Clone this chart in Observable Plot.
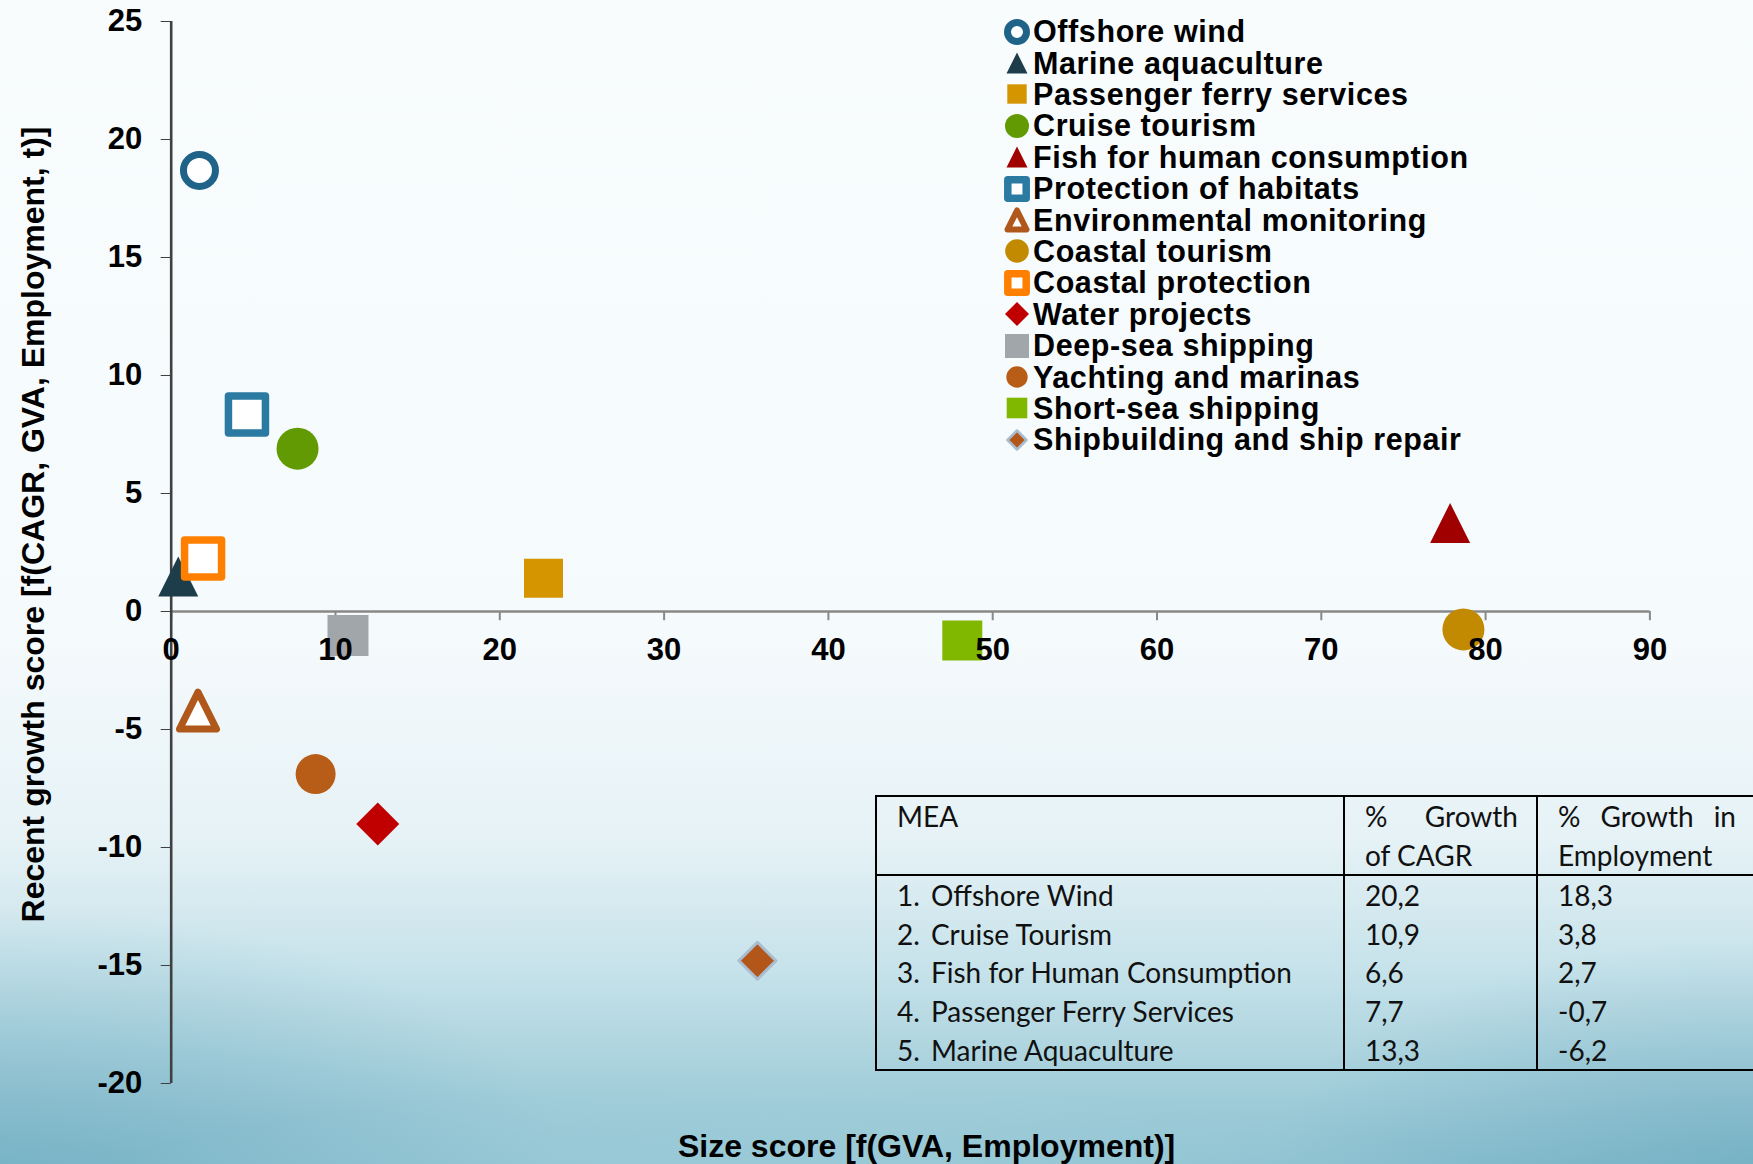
<!DOCTYPE html>
<html>
<head>
<meta charset="utf-8">
<script src="https://cdn.jsdelivr.net/npm/d3@7"></script>
<script src="https://cdn.jsdelivr.net/npm/@observablehq/plot@0.6"></script>
<style>
  html, body { margin: 0; padding: 0; }
  body {
    width: 1753px; height: 1164px; overflow: hidden; position: relative;
    background:
      radial-gradient(ellipse 1100px 230px at 45% 108%, rgba(190,224,233,0.55), rgba(190,224,233,0) 75%),
      radial-gradient(ellipse 700px 320px at 0% 100%, rgba(105,168,190,0.55), rgba(105,168,190,0) 80%),
      radial-gradient(ellipse 600px 280px at 100% 100%, rgba(98,162,186,0.5), rgba(98,162,186,0) 80%),
      linear-gradient(to bottom, #f8fcfd 0%, #f5fafc 55%, #e6f2f6 72%, #c4e1e9 84%, #8cc1d0 100%);
    font-family: "Liberation Sans", Arial, sans-serif;
  }
  #chart { position: absolute; left: 0; top: 0; }
  #legend { position: absolute; left: 1004px; top: 16px; }
  .li { height: 31.4px; display: flex; align-items: center; font: bold 30.5px "Liberation Sans", Arial, sans-serif; letter-spacing: 0.6px; color: #000; white-space: nowrap; }
  .li svg { width: 26px; height: 28px; margin-right: 3px; flex: none; }
  #tbl { position: absolute; left: 875px; top: 795px; border-collapse: collapse;
         font: 28px Lato, "Open Sans", sans-serif; color: #111; }
  #tbl td { border: 2.5px solid #000; padding: 0; vertical-align: top; }
  #tbl .line { height: 38.6px; line-height: 38.6px; white-space: nowrap; }
  .just { display: flex; justify-content: space-between; }
  .num { display: inline-block; width: 34px; }
</style>
</head>
<body>
<div id="chart"></div>
<div id="legend"></div>
<table id="tbl"></table>
<script>
// ---------- data ----------
const sectors = [
  "Offshore wind", "Marine aquaculture", "Passenger ferry services", "Cruise tourism",
  "Fish for human consumption", "Protection of habitats", "Environmental monitoring",
  "Coastal tourism", "Coastal protection", "Water projects", "Deep-sea shipping",
  "Yachting and marinas", "Short-sea shipping", "Shipbuilding and ship repair"
];
const sizeScore   = [1.72, 0.43, 22.66, 7.69, 77.84, 4.61, 1.63, 78.65, 1.94, 12.57, 10.76, 8.79, 48.15, 35.68];
const growthScore = [18.69, 1.48, 1.41, 6.9, 3.75, 8.35, -4.2, -0.76, 2.25, -9.0, -1.02, -6.89, -1.23, -14.8];

const xTicks = [0, 10, 20, 30, 40, 50, 60, 70, 80, 90];
const yTicks = [25, 20, 15, 10, 5, 0, -5, -10, -15, -20];

const xTitle = "Size score [f(GVA, Employment)]";
const yTitle = "Recent growth score [f(CAGR, GVA, Employment, t)]";

const tableHeader = ["MEA", "% Growth of CAGR", "% Growth in Employment"];
const tableMEA  = ["Offshore Wind", "Cruise Tourism", "Fish for Human Consumption", "Passenger Ferry Services", "Marine Aquaculture"];
const tableCAGR = ["20,2", "10,9", "6,6", "7,7", "13,3"];
const tableEmpl = ["18,3", "3,8", "2,7", "-0,7", "-6,2"];

// ---------- styles (per sector) ----------
const shapeOf = ["circle","triangle","square","circle","triangle","square","triangle","circle","square","diamond","square","circle","square","diamond"];
const hollow  = [true,false,false,false,false,true,true,false,true,false,false,false,false,false];
const colorOf = ["#1f6388","#1c3d49","#d49500","#629a04","#a00000","#2a7aa2","#b0581b","#c18a00","#ff8000","#c00000","#a0a6a9","#b85d17","#80b800","#b3561a"];
const plotR   = [16, 20, 19.5, 21, 20, 18.5, 18.5, 21, 18.5, 21.5, 20.5, 20, 20, 18.5];
const plotSW  = [7, 0, 0, 0, 0, 7.5, 7, 0, 7.5, 0, 0, 0, 0, 3];
const legR    = [9.5, 10.5, 9.7, 12, 10.5, 9.2, 9.5, 11.8, 9.2, 12, 12, 10.7, 10.3, 9.5];
const legSW   = [7, 0, 0, 0, 0, 7.5, 6, 0, 7.5, 0, 0, 0, 0, 2.5];

const rOf = size => Math.sqrt(size / Math.PI);
const symbols = {
  circle:   { draw(c, s) { const r = rOf(s); c.moveTo(r, 0); c.arc(0, 0, r, 0, 2 * Math.PI); c.closePath(); } },
  square:   { draw(c, s) { const r = rOf(s); c.moveTo(-r, -r); c.lineTo(r, -r); c.lineTo(r, r); c.lineTo(-r, r); c.closePath(); } },
  triangle: { draw(c, s) { const r = rOf(s); c.moveTo(0, -r); c.lineTo(r, r); c.lineTo(-r, r); c.closePath(); } },
  diamond:  { draw(c, s) { const r = rOf(s); c.moveTo(0, -r); c.lineTo(r, 0); c.lineTo(0, r); c.lineTo(-r, 0); c.closePath(); } }
};
const strokeOf = i => i === 13 ? "#a9bdd0" : colorOf[i];
const fillOf = i => hollow[i] ? "#ffffff" : colorOf[i];

const points = sectors.map((name, i) => ({ name, i, x: sizeScore[i], y: growthScore[i] }));

// ---------- plot ----------
const font = "Liberation Sans, Arial, sans-serif";
const marks = [
  Plot.ruleY([0], { stroke: "#888888", strokeWidth: 2.5 }),
  Plot.ruleX(xTicks, { x: d => d, y1: 0, y2: -0.39, stroke: "#888888", strokeWidth: 2 }),
  Plot.ruleX([0], { stroke: "#404040", strokeWidth: 2.6 }),
  ...points.map(p => Plot.dot([p], {
    x: "x", y: "y", symbol: symbols[shapeOf[p.i]], r: plotR[p.i],
    fill: fillOf(p.i), fillOpacity: 1,
    stroke: plotSW[p.i] ? strokeOf(p.i) : "none", strokeWidth: plotSW[p.i],
    strokeLinejoin: "round"
  })),
  Plot.text(xTicks, { x: d => d, y: 0, dy: 38.5, text: d => String(d), fontSize: 31, fontWeight: "bold", fill: "#000", fontFamily: font }),
  Plot.text([xTitle], { frameAnchor: "bottom", textAnchor: "middle", lineAnchor: "middle", dx: 16, dy: 63, text: d => d, fontSize: 32, fontWeight: "bold", fill: "#000", fontFamily: font }),
  Plot.text([yTitle], { frameAnchor: "left", textAnchor: "middle", lineAnchor: "middle", dx: -137, dy: -28, rotate: -90, text: d => d, fontSize: 32, fontWeight: "bold", fill: "#000", fontFamily: font })
];

const chart = Plot.plot({
  width: 1753, height: 1164,
  marginLeft: 170.7, marginRight: 103.6, marginTop: 21, marginBottom: 81,
  style: { background: "transparent", fontFamily: font, fontSize: "31px", fontWeight: "bold", color: "#000", overflow: "visible" },
  x: { domain: [0, 90], axis: null },
  y: { domain: [-20, 25], ticks: yTicks, tickSize: 10, tickPadding: 19, tickFormat: d => String(d), label: null },
  marks
});
document.getElementById("chart").appendChild(chart);
chart.querySelectorAll('[aria-label="y-axis"] line, [aria-label="y-axis tick"] path, [aria-label="y-axis tick"] line').forEach(e => e.setAttribute("stroke", "#404040"));

// ---------- legend ----------
const legend = document.getElementById("legend");
sectors.forEach((name, i) => {
  const row = document.createElement("div");
  row.className = "li";
  const svgNS = "http://www.w3.org/2000/svg";
  const svg = document.createElementNS(svgNS, "svg");
  svg.setAttribute("viewBox", "-13 -14 26 28");
  const path = document.createElementNS(svgNS, "path");
  const p = d3.path();
  symbols[shapeOf[i]].draw(p, Math.PI * legR[i] * legR[i]);
  path.setAttribute("d", p.toString());
  path.setAttribute("fill", fillOf(i));
  path.setAttribute("stroke", legSW[i] ? strokeOf(i) : "none");
  path.setAttribute("stroke-width", legSW[i]);
  path.setAttribute("stroke-linejoin", "round");
  svg.appendChild(path);
  row.appendChild(svg);
  const t = document.createElement("span");
  t.textContent = name;
  row.appendChild(t);
  legend.appendChild(row);
});

// ---------- table ----------
const tbl = document.getElementById("tbl");
const hdr = document.createElement("tr");
function cell(width, padL, padR, html) {
  const td = document.createElement("td");
  td.style.width = width + "px";
  td.style.minWidth = width + "px";
  td.style.paddingLeft = padL + "px";
  td.style.paddingRight = padR + "px";
  td.innerHTML = html;
  return td;
}
const h2 = tableHeader[1].split(" ");
const h3 = tableHeader[2].split(" ");
const W1 = 445, W2 = 152, W3 = 178;
hdr.appendChild(cell(W1, 20, 0, `<div class="line">${tableHeader[0]}</div><div class="line">&nbsp;</div>`));
hdr.appendChild(cell(W2, 20, 18, `<div class="line just"><span>${h2[0]}</span><span>${h2[1]}</span></div><div class="line">${h2.slice(2).join(" ")}</div>`));
hdr.appendChild(cell(W3, 20, 30, `<div class="line just"><span>${h3[0]}</span><span>${h3[1]}</span><span>${h3[2]}</span></div><div class="line">${h3.slice(3).join(" ")}</div>`));
tbl.appendChild(hdr);
const body = document.createElement("tr");
body.appendChild(cell(W1, 20, 0, tableMEA.map((m, k) => `<div class="line"><span class="num">${k + 1}.</span>${m}</div>`).join("")));
body.appendChild(cell(W2, 20, 18, tableCAGR.map(v => `<div class="line">${v}</div>`).join("")));
body.appendChild(cell(W3, 20, 30, tableEmpl.map(v => `<div class="line">${v}</div>`).join("")));
tbl.appendChild(body);
const tds = hdr.children;
const target = [1343 - 875, 1536 - 1343];
[0, 1].forEach(k => {
  const w = tds[k].getBoundingClientRect().width;
  const adj = target[k] - w;
  tds[k].style.width = (parseFloat(tds[k].style.width) + adj) + "px";
  tds[k].style.minWidth = tds[k].style.width;
  body.children[k].style.width = tds[k].style.width;
  body.children[k].style.minWidth = tds[k].style.width;
});
</script>
</body>
</html>
